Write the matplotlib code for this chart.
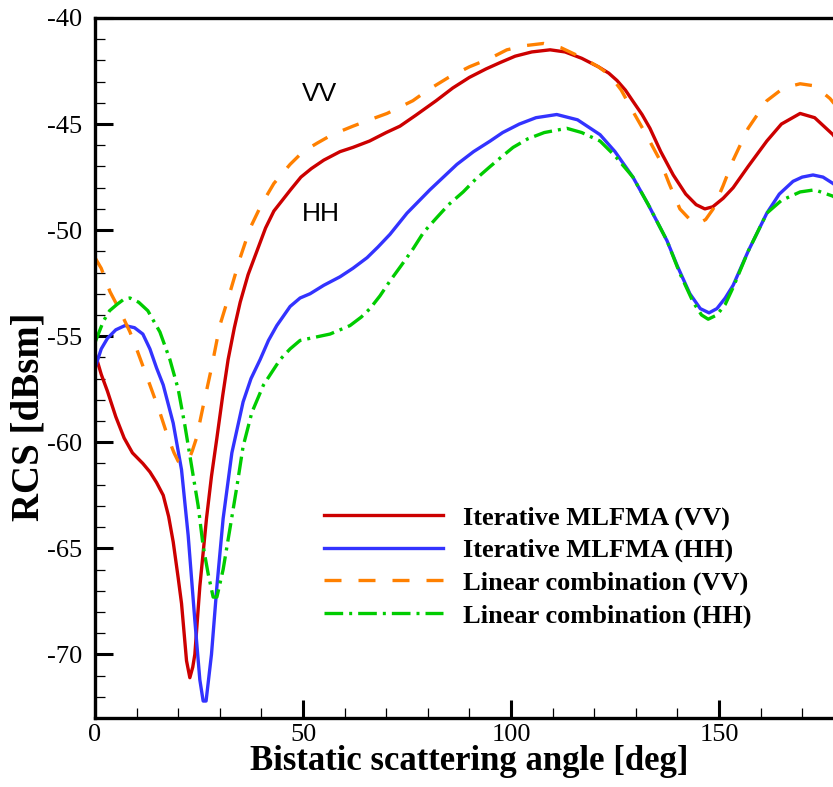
import matplotlib
matplotlib.use("Agg")
import matplotlib.pyplot as plt
from matplotlib.ticker import MultipleLocator

plt.rcParams["axes.unicode_minus"] = False

# ---- data ----
vv_iter_x = [0, 1.5, 3, 5, 7, 9, 11.5, 13.2, 14.8, 16.4, 17.7, 18.8, 20, 20.8, 22, 22.8, 23.5, 24,
             25.2, 26.8, 28, 29.3, 30.7, 32, 33.5, 34.9, 36.8, 38.9, 41, 43, 45, 47, 49.5, 52, 55,
             58.9, 62, 66, 70, 73.3, 77, 82, 86, 90, 94, 97.4, 101, 105, 109.4, 113, 117, 121,
             123.5, 125.5, 127.5, 129.4, 131.5, 133.4, 136, 139, 142, 144.5, 146.6, 148.5, 151,
             153.4, 157, 161.5, 165, 169.5, 173, 177.4, 180]
vv_iter_y = [-55.8, -56.8, -57.6, -58.8, -59.8, -60.5, -61.0, -61.4, -61.9, -62.5, -63.5, -64.7,
             -66.4, -67.6, -70.3, -71.1, -70.6, -70.0, -66.8, -63.6, -61.6, -59.8, -57.8, -56.1,
             -54.6, -53.4, -52.1, -51.0, -49.9, -49.1, -48.6, -48.1, -47.5, -47.1, -46.7, -46.3,
             -46.1, -45.8, -45.4, -45.1, -44.6, -43.9, -43.3, -42.8, -42.4, -42.1, -41.8, -41.6,
             -41.5, -41.6, -41.9, -42.3, -42.6, -42.95, -43.4, -43.95, -44.55, -45.2, -46.3,
             -47.4, -48.3, -48.8, -49.0, -48.9, -48.5, -48.0, -47.0, -45.8, -45.0, -44.5, -44.7,
             -45.5, -46.2]

hh_iter_x = [0, 1.5, 3, 5, 7.2, 9.5, 11.5, 13.2, 14.8, 16.4, 18.8, 20.8, 22.4, 24, 25.2, 26, 26.7,
             28, 29.3, 30.8, 32.9, 35.6, 37.5, 39.7, 41.7, 43.7, 46.9, 49.3, 51.7, 55, 58.9, 62,
             65.4, 68, 70.9, 75, 80.5, 87, 91, 95, 98, 102, 106, 111, 116, 121.4, 125, 129.3, 133,
             137.5, 140, 143, 145.5, 147.6, 149.5, 151.5, 153.4, 157, 161.5, 164.5, 167.8, 170,
             172.6, 175, 177.4, 180]
hh_iter_y = [-56.5, -55.6, -55.1, -54.7, -54.5, -54.6, -54.9, -55.6, -56.5, -57.3, -59.1, -61.3,
             -64.4, -68.4, -71.2, -72.2, -72.2, -70.0, -66.8, -63.6, -60.5, -58.1, -57.0, -56.1,
             -55.2, -54.5, -53.6, -53.2, -53.0, -52.6, -52.2, -51.8, -51.3, -50.8, -50.2, -49.2,
             -48.1, -46.9, -46.3, -45.8, -45.4, -45.0, -44.7, -44.55, -44.8, -45.5, -46.3, -47.5,
             -48.8, -50.5, -51.7, -53.0, -53.7, -53.9, -53.7, -53.2, -52.6, -51.0, -49.2, -48.3,
             -47.7, -47.5, -47.4, -47.5, -47.8, -48.2]

vv_lin_x = [0, 1.5, 3.6, 6, 8.4, 10, 11.5, 13.2, 15.6, 17.6, 19, 20, 21.2, 22.4, 23.4, 24.4, 26,
            28, 30, 32.5, 34.9, 37.3, 40, 43, 46.9, 50, 53.4, 57, 62, 66, 70.2, 76.4, 80, 85, 90,
            95, 99, 103.5, 107.8, 112, 117.4, 121, 123.8, 126.5, 129.3, 132.5, 135.8, 138, 140.6,
            143, 145, 146.8, 148.6, 151, 153.4, 157, 161.5, 165.5, 169.5, 173, 176.7, 180]
vv_lin_y = [-51.3, -51.8, -52.9, -53.8, -54.8, -55.6, -56.4, -57.3, -58.6, -59.8, -60.5, -60.9,
            -61.0, -60.9, -60.4, -59.8, -58.3, -56.5, -54.5, -52.9, -51.3, -49.9, -48.8, -47.8,
            -46.9, -46.3, -45.9, -45.5, -45.1, -44.8, -44.5, -43.9, -43.4, -42.8, -42.3, -41.9,
            -41.5, -41.3, -41.2, -41.4, -41.9, -42.3, -42.7, -43.4, -44.4, -45.5, -46.7, -47.8,
            -49.0, -49.5, -49.7, -49.5, -49.0, -47.9, -46.7, -45.2, -43.9, -43.3, -43.1, -43.2,
            -43.8, -44.6]

hh_lin_x = [0, 2, 3.5, 5.3, 7, 8.4, 10.5, 12.7, 15.6, 18, 20, 21.6, 23.2, 24.8, 26, 27.2, 28.4,
            29.3, 30.8, 32.5, 34.1, 35.6, 37.7, 40.5, 44.5, 46.9, 49.3, 51.7, 56.5, 61.3, 64,
            66.1, 68.5, 70.9, 73.5, 76.4, 79, 82.2, 85, 88.5, 91.5, 95, 97.4, 100.5, 104, 108,
            113.4, 117, 121.4, 125, 129.3, 133, 137.5, 140.5, 143.8, 145.8, 147.4, 149.5, 151.5,
            153.4, 157, 161.5, 165, 169.5, 173, 177.4, 180]
hh_lin_y = [-55.3, -54.3, -53.8, -53.5, -53.25, -53.2, -53.4, -53.8, -54.8, -56.1, -57.5, -59.2,
            -61.1, -63.0, -64.9, -66.2, -67.3, -67.3, -66.0, -64.0, -62.1, -60.2, -58.6, -57.3,
            -56.1, -55.6, -55.2, -55.1, -54.9, -54.5, -54.1, -53.7, -53.1, -52.4, -51.7, -50.9,
            -50.1, -49.4, -48.8, -48.2, -47.6, -47.0, -46.6, -46.1, -45.7, -45.4, -45.2, -45.4,
            -45.8, -46.5, -47.5, -48.8, -50.5, -52.0, -53.4, -54.0, -54.2, -54.0, -53.5, -52.7,
            -51.0, -49.2, -48.6, -48.2, -48.1, -48.4, -48.8]

labels = ["Iterative MLFMA (VV)", "Iterative MLFMA (HH)",
          "Linear combination (VV)", "Linear combination (HH)"]
x_label = "Bistatic scattering angle [deg]"
y_label = "RCS [dBsm]"
x_ticks = [0, 50, 100, 150]
y_ticks = [-70, -65, -60, -55, -50, -45, -40]

# ---- figure ----
fig = plt.figure(figsize=(8.33, 7.87), dpi=100)
ax = fig.add_axes([95 / 833, 1 - 718 / 787, 748.8 / 833, 700 / 787])

serif = ["Liberation Serif", "DejaVu Serif"]
lw = 2.4
ax.plot(vv_iter_x, vv_iter_y, color="#CC0000", lw=lw, label=labels[0])
ax.plot(hh_iter_x, hh_iter_y, color="#3333FF", lw=lw, label=labels[1])
ax.plot(vv_lin_x, vv_lin_y, color="#FF8000", lw=lw, linestyle=(0, (5.1, 5.1)), label=labels[2])
ax.plot(hh_lin_x, hh_lin_y, color="#00CC00", lw=lw, linestyle=(0, (5.6, 1.8, 0.9, 1.8)),
        label=labels[3])

ax.set_xlim(0, 180)
ax.set_ylim(-73, -40)
ax.set_xticks(x_ticks)
ax.set_yticks(y_ticks)
ax.xaxis.set_minor_locator(MultipleLocator(10))
ax.yaxis.set_minor_locator(MultipleLocator(1))
ax.tick_params(which="major", direction="in", length=13, width=2.2, labelsize=19)
ax.tick_params(which="minor", direction="in", length=7, width=0.9)
ax.tick_params(axis="y", which="major", pad=9)
ax.tick_params(axis="x", which="major", pad=4)
for t in ax.get_xticklabels() + ax.get_yticklabels():
    t.set_fontfamily(serif)
for s in ax.spines.values():
    s.set_linewidth(2.4)

ax.set_xlabel(x_label, fontsize=25, fontweight="bold", family=serif)
ax.set_ylabel(y_label, fontsize=28, fontweight="bold", family=serif)
ax.xaxis.set_label_coords(0.5, -0.0386)
ax.yaxis.set_label_coords(-0.0634, 0.431)

ax.text(49.8, -43.93, "VV", fontsize=19, family=["Liberation Sans"], ha="left", va="baseline")
ax.text(49.8, -49.57, "HH", fontsize=19, family=["Liberation Sans"], ha="left", va="baseline")

leg = fig.legend(loc="upper left", bbox_to_anchor=(324 / 833, 1 - 506 / 787),
                 frameon=False, borderpad=0, borderaxespad=0,
                 handlelength=4.5, handletextpad=0.76, labelspacing=0.33,
                 prop={"family": serif, "weight": "bold", "size": 19})

fig.savefig("out.png", dpi=100)
